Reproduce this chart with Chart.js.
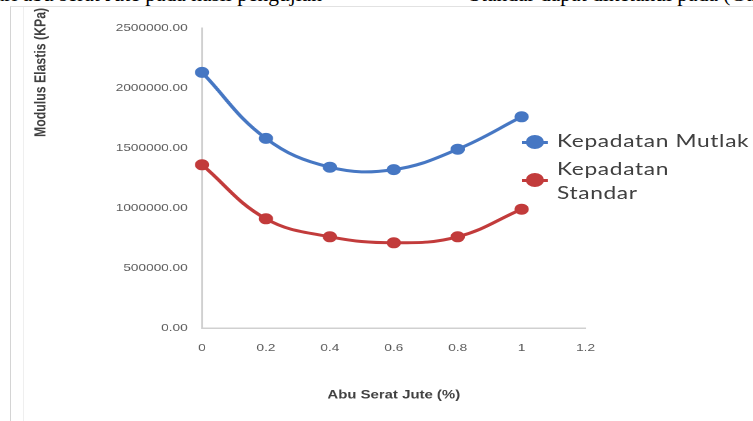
<!DOCTYPE html>
<html>
<head>
<meta charset="utf-8">
<script src="https://cdn.jsdelivr.net/npm/chart.js@4.4.1/dist/chart.umd.min.js"></script>
<style>
  html, body { margin: 0; padding: 0; background: #fff; }
  body { width: 753px; height: 421px; position: relative; overflow: hidden; }
  .teks-atas {
    position: absolute; top: -16.5px;
    font-family: "Liberation Serif", serif; font-size: 21.5px; line-height: 21.5px;
    white-space: nowrap; color: #000;
  }
  #bingkai {
    position: absolute; left: 10px; top: 6px; right: 0; bottom: 0;
    border-left: 1px solid #d4d4d4; border-top: 1px solid #e2e2e2;
  }
  #garis-dalam { position: absolute; left: 23px; top: 7px; bottom: 0; width: 1px; background: #efefef; }
  /* gambar aslinya melebar ke samping, jadi seluruh grafik ditarik horizontal */
  #wadah {
    position: absolute; left: 0; top: 0; width: 580px; height: 421px;
    transform: scaleX(1.2983); transform-origin: 0 0;
  }
  #legenda { position: absolute; left: 0; top: 0; font-family: Lato, sans-serif; font-size: 17.5px; letter-spacing: 0.5px; color: #404040; }
  .teks-legenda { position: absolute; left: 429px; line-height: 24px; white-space: nowrap; }
  .penanda { position: absolute; left: 402px; width: 20px; height: 3px; }
  .penanda span { position: absolute; left: 3px; top: -6px; width: 14px; height: 14px; border-radius: 50%; }
</style>
</head>
<body>
<div class="teks-atas" style="left:-16px">dari abu serat Jute pada hasil pengujian</div>
<div class="teks-atas" style="left:469px">Standar dapat diketahui pada (Gambar</div>
<div id="bingkai"></div>
<div id="garis-dalam"></div>
<div id="wadah">
  <canvas id="grafik"></canvas>
  <div id="legenda"></div>
</div>
<script>
const kadarAbu = [0, 0.2, 0.4, 0.6, 0.8, 1];
const modulusMutlak = [2130000, 1580000, 1340000, 1320000, 1490000, 1760000];
const modulusStandar = [1360000, 910000, 760000, 710000, 760000, 990000];
const namaSeri = ["Kepadatan Mutlak", ["Kepadatan", "Standar"]];
const warnaSeri = ["#4677c3", "#c23b3b"];
const labelSumbuX = "Abu Serat Jute (%)";
const labelSumbuY = "Modulus Elastis (KPa)";

const fontTick = { family: '"Liberation Sans", Arial, sans-serif', size: 10.5 };

const judulSumbuY = {
  id: "judulSumbuY",
  afterDraw(chart) {
    const c = chart.ctx;
    c.save();
    c.translate(chart.chartArea.left - 124, chart.chartArea.top + 109);
    c.rotate(-Math.PI / 2);
    c.font = 'bold 12.3px "Liberation Sans", Arial, sans-serif';
    c.fillStyle = "#404040";
    c.textAlign = "left";
    c.textBaseline = "middle";
    c.fillText(labelSumbuY, 0, 0);
    c.restore();
  }
};

function buatData(nilai) {
  return kadarAbu.map((x, i) => ({ x: x, y: nilai[i] }));
}

const grafik = new Chart(document.getElementById("grafik"), {
  type: "line",
  data: {
    datasets: [
      {
        label: "Kepadatan Mutlak",
        data: buatData(modulusMutlak),
        borderColor: warnaSeri[0],
        backgroundColor: warnaSeri[0],
        borderWidth: 3,
        pointRadius: 5,
        pointBorderWidth: 1,
        tension: 0.4,
        clip: false,
      },
      {
        label: "Kepadatan Standar",
        data: buatData(modulusStandar),
        borderColor: warnaSeri[1],
        backgroundColor: warnaSeri[1],
        borderWidth: 3,
        pointRadius: 5,
        pointBorderWidth: 1,
        tension: 0.4,
        clip: false,
      }
    ]
  },
  options: {
    responsive: true,
    maintainAspectRatio: false,
    devicePixelRatio: 2,
    animation: false,
    layout: { padding: { top: 28, right: 129, bottom: 0, left: 0 } },
    plugins: {
      legend: { display: false },
      tooltip: { enabled: false },
    },
    scales: {
      x: {
        type: "linear",
        min: 0,
        max: 1.2,
        ticks: {
          stepSize: 0.2,
          padding: 14,
          color: "#595959",
          font: fontTick,
          callback: (v) => String(Math.round(v * 10) / 10),
        },
        grid: { display: false, drawTicks: false },
        border: { color: "#d0d0d0", width: 1.5 },
        title: {
          display: true,
          text: labelSumbuX,
          color: "#404040",
          font: { family: '"Liberation Sans", Arial, sans-serif', size: 11.5, weight: "bold" },
          padding: { top: 0, bottom: 19 },
        },
        afterFit: (s) => { s.height = 93; },
      },
      y: {
        min: 0,
        max: 2500000,
        ticks: {
          stepSize: 500000,
          padding: 11,
          color: "#595959",
          font: fontTick,
          callback: (v) => v.toFixed(2),
        },
        grid: { display: false, drawTicks: false },
        border: { color: "#d0d0d0", width: 1.5 },
        afterFit: (s) => { s.width = 155.6; },
      }
    }
  },
  plugins: [judulSumbuY]
});

// legenda di samping kanan, dibuat manual karena baris kedua terbungkus
const legenda = document.getElementById("legenda");
const posisiLegenda = [
  { penanda: 142, teks: 128.5 },
  { penanda: 180, teks: 156.5 },
];
namaSeri.forEach((nama, i) => {
  const p = document.createElement("div");
  p.className = "penanda";
  p.style.top = (posisiLegenda[i].penanda - 1.5) + "px";
  p.style.background = warnaSeri[i];
  const bulat = document.createElement("span");
  bulat.style.background = warnaSeri[i];
  p.appendChild(bulat);
  legenda.appendChild(p);

  const t = document.createElement("div");
  t.className = "teks-legenda";
  t.style.top = posisiLegenda[i].teks + "px";
  t.innerHTML = [].concat(nama).join("<br>");
  legenda.appendChild(t);
});
</script>
</body>
</html>
